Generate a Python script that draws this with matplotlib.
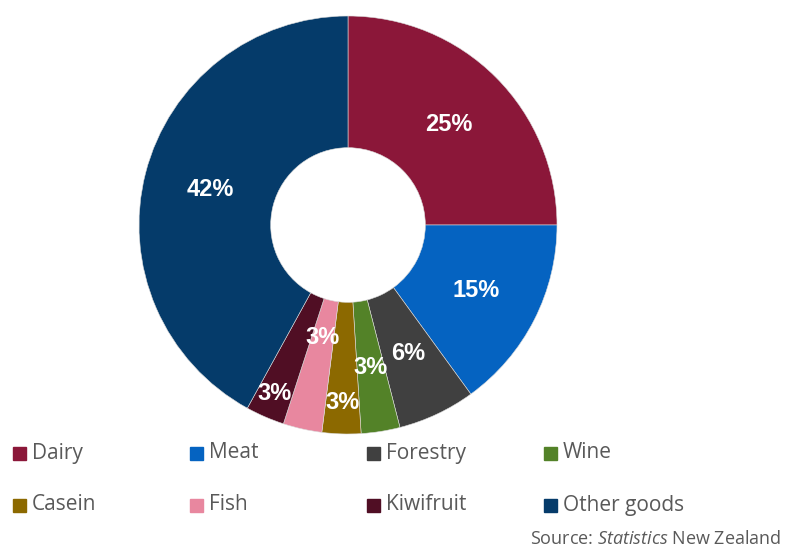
import numpy as np
import matplotlib
matplotlib.use("Agg")
import matplotlib.pyplot as plt
from matplotlib.patches import Rectangle

plt.rcParams['mathtext.fontset'] = 'custom'
plt.rcParams['mathtext.rm'] = 'Open Sans'
plt.rcParams['mathtext.it'] = 'Open Sans:italic'

# Export share by commodity (%)
categories = ['Dairy', 'Meat', 'Forestry', 'Wine', 'Casein', 'Fish', 'Kiwifruit', 'Other goods']
shares = [25, 15, 6, 3, 3, 3, 3, 42]
colors = ['#8B1739', '#0563C1', '#404040', '#538228', '#8C6900', '#E8879F', '#500E24', '#053B6A']
# how far out along each wedge the percentage sits
label_radius = [0.68, 0.69, 0.68, 0.69, 0.85, 0.55, 0.88, 0.68]

W, H = 795, 547
fig = plt.figure(figsize=(W / 100, H / 100), dpi=100)

# donut axes, centred at (348, 225) px with 209 px radius
cx, cy, R = 348, 225, 209
ax = fig.add_axes([(cx - R) / W, (H - cy - R) / H, 2 * R / W, 2 * R / H])
wedges, _ = ax.pie(shares, colors=colors, startangle=90, counterclock=False,
                   radius=1, wedgeprops=dict(width=0.63, edgecolor='#dcdcdc', linewidth=0.4))
ax.set_xlim(-1, 1)
ax.set_ylim(-1, 1)
ax.set_aspect('equal')
ax.axis('off')

for w, val, r in zip(wedges, shares, label_radius):
    ang = np.deg2rad((w.theta1 + w.theta2) / 2)
    ax.text(r * np.cos(ang), r * np.sin(ang), f'{val}%', ha='center', va='center',
            color='white', fontsize=17, fontweight='bold', family='Liberation Sans')

# legend: two rows of four
for i, (name, c) in enumerate(zip(categories, colors)):
    col, row = i % 4, i // 4
    x0 = 13 + col * 177
    yc = 453 + row * 52
    fig.patches.append(Rectangle((x0 / W, 1 - (yc + 7) / H), 13 / W, 13 / H,
                                 transform=fig.transFigure, color=c))
    fig.text((x0 + 19) / W, 1 - yc / H, name, ha='left', va='center',
             fontsize=15, color='#595959', family='Open Sans')

fig.text(530 / W, 1 - 544 / H, r'Source: $\mathit{Statistics}$ New Zealand',
         ha='left', va='baseline', fontsize=13, color='#595959', family='Open Sans')

fig.savefig('out.png', dpi=100)
